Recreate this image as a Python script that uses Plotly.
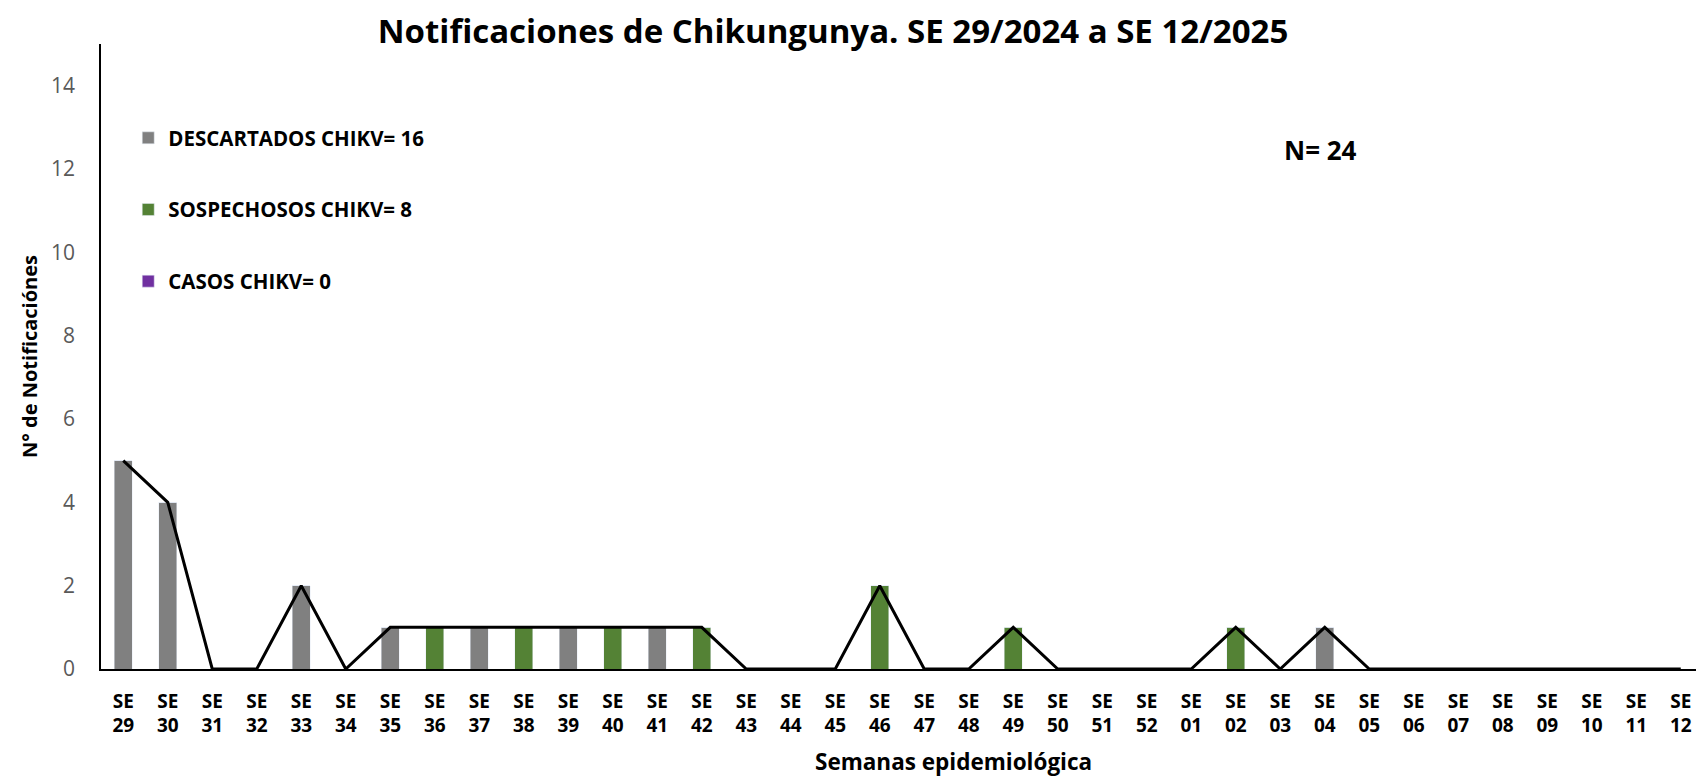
import plotly.graph_objects as go

weeks = ["29","30","31","32","33","34","35","36","37","38","39","40","41","42","43","44","45","46","47","48","49","50","51","52",
         "01","02","03","04","05","06","07","08","09","10","11","12"]
categories = ["SE " + w for w in weeks]
tick_labels = ["<b>SE<br>" + w + "</b>" for w in weeks]
descartados = [5,4,0,0,2,0,1,0,1,0,1,0,1,0,0,0,0,0,0,0,0,0,0,0,0,0,0,1,0,0,0,0,0,0,0,0]
sospechosos = [0,0,0,0,0,0,0,1,0,1,0,1,0,1,0,0,0,2,0,0,1,0,0,0,0,1,0,0,0,0,0,0,0,0,0,0]
casos = [0]*36
total = [d + s + c for d, s, c in zip(descartados, sospechosos, casos)]
y_ticks = [0, 2, 4, 6, 8, 10, 12, 14]

FONT = "Open Sans"
# the page body has an 8px margin, so the figure is laid out 8px smaller
W, H = 1696, 771
L, R, T, B = 93, 1, 36, 110
PW, PH = W - L - R, H - T - B

fig = go.Figure()
fig.add_bar(x=categories, y=descartados, name="<b>DESCARTADOS CHIKV= 16</b>",
            marker_color="#808080", legendgroup="d")
fig.add_bar(x=categories, y=sospechosos, name="<b>SOSPECHOSOS CHIKV= 8</b>",
            marker_color="#548235", legendgroup="s")
fig.add_bar(x=categories, y=casos, name="<b>CASOS CHIKV= 0</b>",
            marker_color="#7030A0", legendgroup="c")
fig.add_scatter(x=categories, y=total, mode="lines", line=dict(color="black", width=3),
                showlegend=False, hoverinfo="skip")

fig.update_layout(
    width=W, height=H,
    margin=dict(l=L, r=R, t=T, b=B, autoexpand=False),
    paper_bgcolor="white", plot_bgcolor="white",
    barmode="stack", bargap=0.6,
    font=dict(family=FONT, color="black"),
    title=dict(text="<b>Notificaciones de Chikungunya. SE 29/2024 a SE 12/2025</b>",
               x=825 / W, xanchor="center", y=1 - 23 / H, yanchor="middle",
               font=dict(size=33, family=FONT, color="black")),
    legend=dict(x=0.0170, y=0.8816, xanchor="left", yanchor="top",
                traceorder="grouped", tracegroupgap=42,
                font=dict(size=20.5, family=FONT, color="black"),
                itemwidth=30, bgcolor="rgba(0,0,0,0)"),
    xaxis=dict(type="category", showline=True, linecolor="black", linewidth=1.5,
               ticks="", tickmode="array", tickvals=categories, ticktext=tick_labels,
               tickfont=dict(size=19, family=FONT, color="black"),
               ticklabelstandoff=14, automargin=False,
               showgrid=False),
    yaxis=dict(range=[0, 15], tickvals=y_ticks, showline=True,
               linecolor="black", linewidth=1.5, ticks="", showgrid=False, zeroline=False,
               tickfont=dict(size=21, family=FONT, color="#595959"),
               ticklabelstandoff=20, automargin=False,
               title=dict(text="<b>N° de Notificaciónes</b>", font=dict(size=20, family=FONT),
                          standoff=8)),
)
fig.add_annotation(x=(945 - L) / PW, y=(H - B - 753) / PH, xref="paper", yref="paper",
                   xanchor="center", yanchor="middle",
                   text="<b>Semanas epidemiológica</b>", showarrow=False,
                   font=dict(size=22.5, family=FONT, color="black"))
fig.add_annotation(x=(1312 - L) / PW, y=(H - B - 142) / PH, xref="paper", yref="paper",
                   xanchor="center", yanchor="middle",
                   text="<b>N= 24</b>", showarrow=False,
                   font=dict(size=26, family=FONT, color="black"))
fig.write_html("out.html")
